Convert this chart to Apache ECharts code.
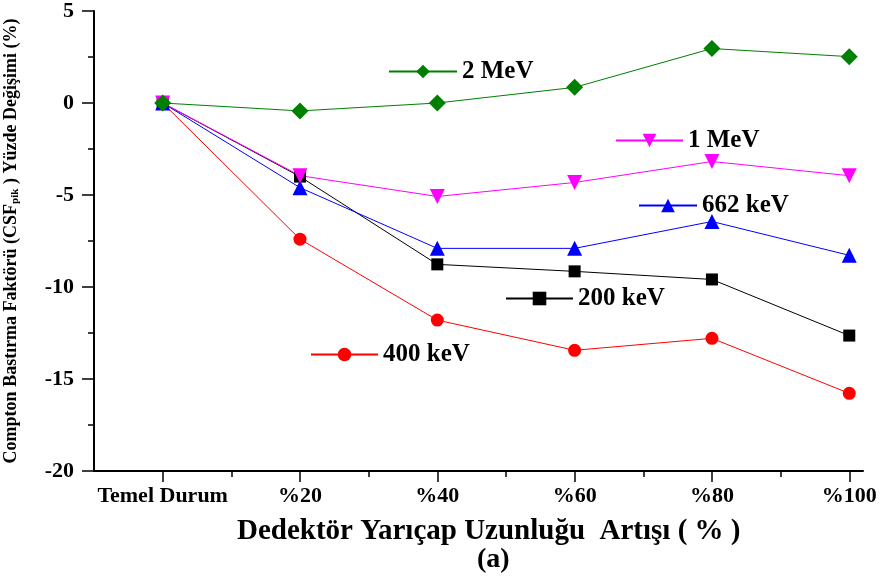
<!DOCTYPE html>
<html>
<head>
<meta charset="utf-8">
<script src="https://cdn.jsdelivr.net/npm/echarts@6/dist/echarts.min.js"></script>
<style>
  html, body { margin: 0; padding: 0; background: #fff; }
  #chart { width: 886px; height: 580px; }
</style>
</head>
<body>
<div id="chart"></div>
<script>
const categories = ['Temel Durum', '%20', '%40', '%60', '%80', '%100']
const mev2 = [0, -0.43, 0, 0.85, 2.96, 2.52]
const mev1 = [0, -3.95, -5.08, -4.32, -3.18, -3.95]
const kev662 = [0, -4.6, -7.9, -7.9, -6.44, -8.28]
const kev200 = [0, -4.0, -8.77, -9.15, -9.59, -12.64]
const kev400 = [0, -7.4, -11.8, -13.44, -12.79, -15.78]
const yTicks = [-20, -15, -10, -5, 0, 5]

const FONT = "'Liberation Serif', 'Times New Roman', serif"

const toPoints = (arr) => arr.map((v, i) => [i, v])

const mkSeries = (name, data, color, symbol, size) => ({
    name,
    type: 'line',
    data: toPoints(data),
    symbol,
    symbolSize: size,
    color,
    lineStyle: { width: 1, color },
    itemStyle: { color },
    z: 3
})

const mkLegend = (name, left, top, width) => ({
    data: [name],
    left,
    top,
    itemWidth: width,
    itemHeight: 17,
    selectedMode: false,
    textStyle: { fontFamily: FONT, fontWeight: 'bold', fontSize: 25, color: '#000', padding: [0, 0, 0, 0] }
})

const chart = echarts.init(document.getElementById('chart'))
chart.setOption({
    animation: false,
    backgroundColor: '#fff',
    grid: { left: 94, right: 23, top: 11, bottom: 109, containLabel: false, outerBoundsMode: 'none' },
    title: [
        { text: 'Dedektör Yarıçap Uzunluğu  Artışı ( % )', left: 232, top: 512,
          textStyle: { fontFamily: FONT, fontWeight: 'bold', fontSize: 29, color: '#000' } },
        { text: '(a)', left: 472, top: 541,
          textStyle: { fontFamily: FONT, fontWeight: 'bold', fontSize: 28, color: '#000' } }
    ],
    legend: [
        mkLegend('2 MeV', 383, 54, 68),
        mkLegend('1 MeV', 610, 123, 67),
        mkLegend('662 keV', 633, 188, 58),
        mkLegend('200 keV', 500, 281, 67),
        mkLegend('400 keV', 305, 337, 67)
    ],
    xAxis: [
        {
            type: 'value',
            min: -0.5,
            max: 5.1,
            position: 'bottom',
            splitLine: { show: false },
            axisLine: { onZero: false, lineStyle: { color: '#000', width: 2 } },
            axisTick: { customValues: [0, 1, 2, 3, 4, 5], length: 11, lineStyle: { color: '#000', width: 1.5 } },
            axisLabel: {
                customValues: [0, 1, 2, 3, 4, 5],
                formatter: (v) => categories[Math.round(v)],
                margin: 14,
                fontFamily: FONT, fontWeight: 'bold', fontSize: 22, color: '#000'
            }
        },
        {
            type: 'value',
            min: -0.5,
            max: 5.1,
            position: 'bottom',
            splitLine: { show: false },
            axisLine: { show: false, onZero: false },
            axisTick: { customValues: [0.5, 1.5, 2.5, 3.5, 4.5], length: 6, lineStyle: { color: '#000', width: 1.5 } },
            axisLabel: { show: false }
        }
    ],
    yAxis: {
        type: 'value',
        min: -20,
        max: 5,
        interval: 5,
        splitLine: { show: false },
        axisLine: { show: true, onZero: false, lineStyle: { color: '#000', width: 2 } },
        axisTick: { show: true, length: 12, lineStyle: { color: '#000', width: 1.5 } },
        minorTick: { show: true, splitNumber: 2, length: 6, lineStyle: { color: '#000', width: 1.5 } },
        axisLabel: {
            customValues: yTicks,
            margin: 20,
            fontFamily: FONT, fontWeight: 'bold', fontSize: 22, color: '#000'
        },
        name: '{n|Compton Bastırma Faktörü (CSF}{s|pik}{n| ) Yüzde Değişimi (%)}',
        nameLocation: 'middle',
        nameRotate: 90,
        nameGap: 73,
        nameTextStyle: {
            rich: {
                n: { fontFamily: FONT, fontWeight: 'bold', fontSize: 18, color: '#000' },
                s: { fontFamily: FONT, fontWeight: 'bold', fontSize: 11, color: '#000', verticalAlign: 'bottom', padding: [9, 0, 0, 0] }
            }
        }
    },
    series: [
        mkSeries('400 keV', kev400, '#ff0000', 'circle', 13),
        mkSeries('200 keV', kev200, '#000000', 'rect', 12),
        mkSeries('662 keV', kev662, '#0000ff', 'triangle', 15),
        mkSeries('1 MeV', mev1, '#ff00ff', 'path://M0,0 L10,0 L5,9 Z', 15),
        mkSeries('2 MeV', mev2, '#008000', 'diamond', 17)
    ]
})
</script>
</body>
</html>
